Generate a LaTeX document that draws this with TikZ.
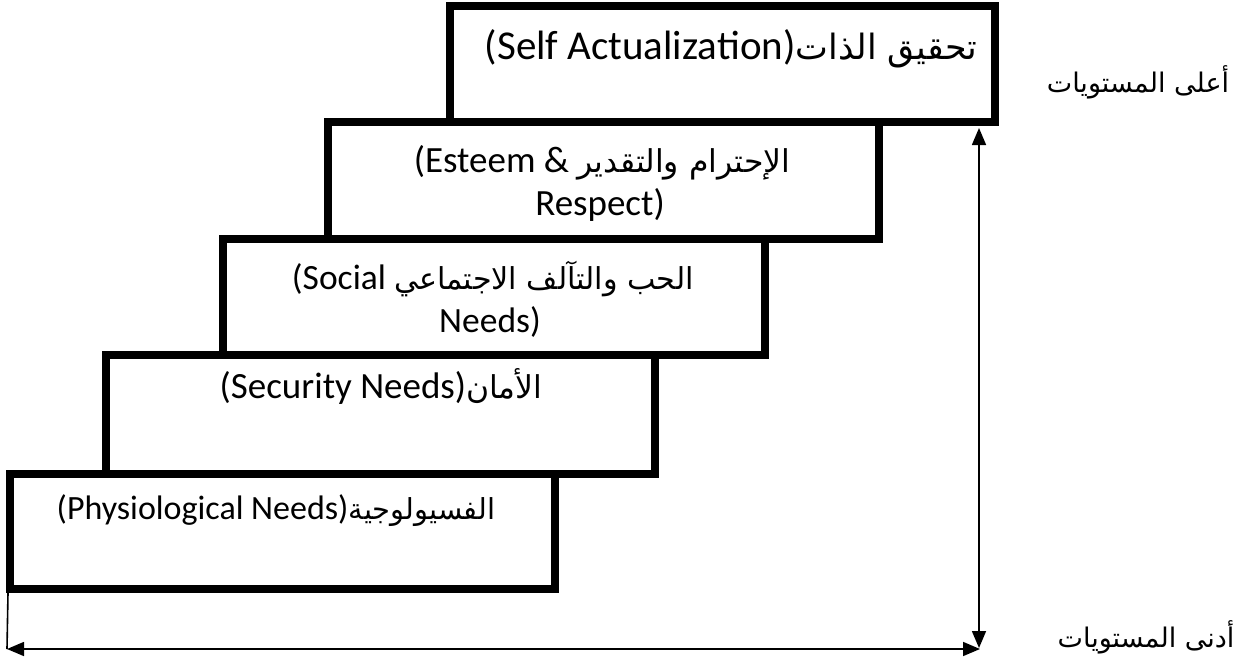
\documentclass[tikz,border=0pt]{standalone}
\usepackage{fontspec}
\setmainfont{Carlito}
\newfontfamily\arabicfont[Script=Arabic,Scale=0.85]{DejaVu Sans}
\newfontfamily\arabiclbl[Script=Arabic]{DejaVu Sans}
\TeXXeTstate=1
\usetikzlibrary{arrows.meta}
\begin{document}
\begin{tikzpicture}[x=1pt,y=-1pt,
  stair/.style={draw=black, line width=8pt, line join=miter, inner sep=0pt, outer sep=0pt},
  lbl/.style={inner sep=0pt, anchor=base, font=\fontsize{#1}{#1}\selectfont},
  lbl/.default=37,
  side/.style={inner sep=0pt, font=\fontsize{27}{32}\arabiclbl},
  dbl/.style={line width=1.6pt, {Triangle[length=17pt,width=14pt]}-{Triangle[length=17pt,width=14pt]}},
  thin/.style={line width=1.6pt}]
\useasboundingbox (0,0) rectangle (1245,659);
% stairs
\node[stair, minimum width=545pt, minimum height=116pt] (b1) at (722.5,64) {};
\node[stair, minimum width=551pt, minimum height=117pt] (b2) at (603.5,180.5) {};
\node[stair, minimum width=542pt, minimum height=116pt] (b3) at (494,297) {};
\node[stair, minimum width=549pt, minimum height=119pt] (b4) at (380.5,414.5) {};
\node[stair, minimum width=545pt, minimum height=115pt] (b5) at (282.5,531.5) {};
% texts
\node[lbl=41] (t1) at (731,59) {(Self Actualization){\arabicfont\beginR تحقيق الذات\endR}};
\node[lbl] (t2a) at (602,172) {(Esteem \& {\arabicfont\beginR الإحترام والتقدير\endR}};
\node[lbl] (t2b) at (600,215) {Respect)};
\node[lbl=35.5] (t3a) at (493,289) {(Social {\arabicfont\beginR الحب والتآلف الاجتماعي\endR}};
\node[lbl=35.5] (t3b) at (490,332) {Needs)};
\node[lbl] (t4) at (381,398) {(Security Needs){\arabicfont\beginR الأمان\endR}};
\node[lbl=34] (t5) at (276,519) {(Physiological Needs){\arabicfont\beginR الفسيولوجية\endR}};
% side labels
\node[side] (hi) at (1138,82) {\beginR أعلى المستويات\endR};
\node[side] (lo) at (1146,637) {\beginR أدنى المستويات\endR};
% arrows
\coordinate (vtop) at (979,128);
\coordinate (vbot) at (979,648);
\coordinate (hl) at (7,649);
\coordinate (hr) at (980,649);
\coordinate (ltop) at (8,593);
\draw[dbl] (vtop) -- (vbot);
\draw[dbl] (hl) -- (hr);
\draw[thin] (ltop) -- (hl);
\end{tikzpicture}
\end{document}
